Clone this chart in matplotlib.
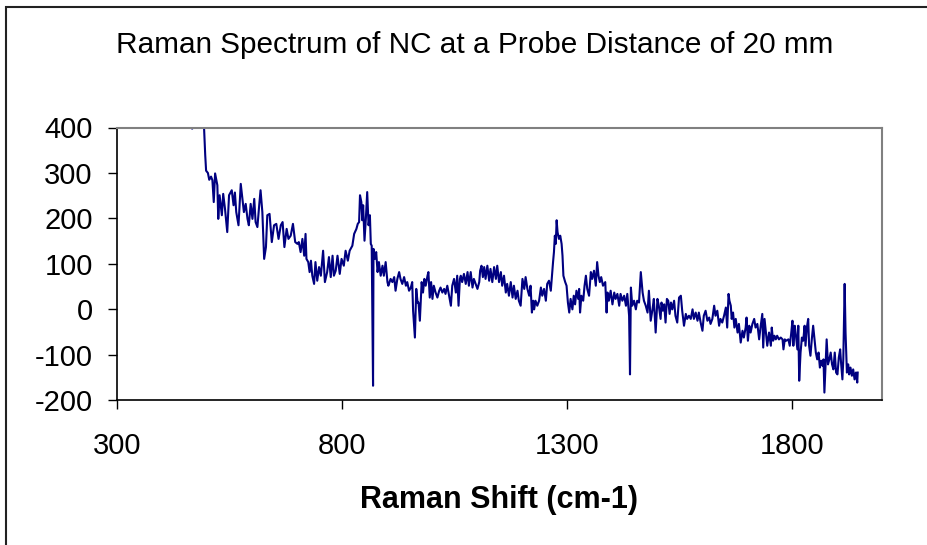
#!/usr/bin/env python3
"""Raman spectrum of NC at 20 mm probe distance (Excel-style line chart)."""

import matplotlib
matplotlib.use('Agg')
import matplotlib.pyplot as plt
from matplotlib.patches import Rectangle

plt.rcParams.update({
    'font.family': 'sans-serif',
    'font.sans-serif': ['Liberation Sans', 'DejaVu Sans'],
    'font.size': 21,
    'axes.unicode_minus': False,
})

# Raman shift (cm-1)
shift = [
    467, 472, 478, 484, 489, 493, 496, 498, 502, 505, 509, 512, 515, 518, 523, 525,
    528, 533, 536, 540, 545, 549, 555, 559, 562, 565, 570, 575, 579, 582, 586, 590,
    593, 597, 601, 605, 608, 612, 616, 619, 623, 627, 631, 634, 639, 644, 649, 654,
    659, 664, 668, 672, 677, 681, 686, 691, 696, 701,
    704, 708, 712, 716, 719, 721, 725, 728, 731, 734, 738, 741, 745, 749, 753, 758,
    762, 767, 771, 775, 779, 782, 786, 790, 795, 799, 804, 808, 813, 817, 823, 827,
    832, 835, 838, 840, 843, 845, 847, 850, 853, 856, 859, 862, 864, 866, 869, 870,
    873, 876, 879, 882, 886, 890, 893, 897, 901, 903, 908, 912, 916, 919, 923, 927,
    930, 934, 938, 942, 945, 949, 953, 956, 958, 962, 965, 968, 970, 973,
    977, 980, 983, 986, 990, 992, 995, 998, 1001, 1004, 1008, 1012, 1016, 1019, 1023,
    1027, 1030, 1034, 1038, 1042, 1045, 1049, 1053, 1056, 1059, 1062, 1064, 1067, 1071,
    1075, 1079, 1082, 1086, 1090, 1093, 1097, 1101, 1105, 1107, 1110, 1113, 1116, 1119,
    1123, 1127, 1130, 1134, 1138, 1142, 1145, 1149, 1153, 1156, 1160, 1164, 1167, 1171,
    1175, 1179, 1182, 1186, 1190, 1193, 1197, 1201, 1205, 1208, 1212, 1216, 1219, 1222,
    1225, 1227, 1230, 1234,
    1238, 1242, 1245, 1249, 1253, 1256, 1260, 1264, 1266, 1269, 1271, 1273, 1275, 1277,
    1279, 1282, 1285, 1288, 1290, 1292, 1296, 1299, 1302, 1305, 1308, 1312, 1315, 1318,
    1321, 1325, 1327, 1329, 1332, 1336, 1339, 1342, 1345, 1349, 1353, 1356, 1360, 1364,
    1367, 1370, 1373, 1376, 1380, 1385, 1388, 1390, 1393, 1397, 1401, 1405, 1408, 1412,
    1416, 1419, 1423, 1427, 1431, 1434, 1438, 1440, 1442, 1445, 1449, 1453, 1456, 1460,
    1464, 1468, 1471, 1475, 1479, 1482, 1486, 1490, 1493, 1497, 1501,
    1504, 1508, 1510, 1513, 1516, 1519, 1522, 1525, 1528, 1531, 1534, 1538, 1541, 1545,
    1549, 1553, 1556, 1560, 1564, 1567, 1571, 1575, 1579, 1582, 1586, 1590, 1593, 1597,
    1601, 1604, 1608, 1612, 1616, 1619, 1623, 1627, 1630, 1634, 1638, 1641, 1645, 1649,
    1653, 1656, 1659, 1661, 1664, 1666, 1669, 1672, 1675, 1679, 1682, 1686, 1690, 1693,
    1697, 1699, 1702, 1705, 1708, 1712, 1716, 1719, 1723, 1727, 1730, 1734, 1736, 1739,
    1742, 1745,
    1749, 1753, 1755, 1758, 1761, 1764, 1767, 1771, 1775, 1779, 1781, 1784, 1787, 1792,
    1795, 1798, 1801, 1803, 1806, 1808, 1812, 1814, 1816, 1819, 1822, 1825, 1828, 1830,
    1833, 1836, 1838, 1841, 1844, 1847, 1850, 1853, 1856, 1859, 1862, 1865, 1868, 1870,
    1872, 1875, 1877, 1880, 1883, 1886, 1889, 1892, 1895, 1898, 1901, 1904, 1907, 1909,
    1912, 1914, 1917, 1919, 1922, 1925, 1927, 1930, 1933, 1936, 1939, 1942, 1945, 1946,
]

# Intensity (counts), same order as shift
intensity = [
    398, 430, 455, 460, 440, 410, 340, 305, 300, 285, 292, 284, 236, 299, 273, 199,
    251, 207, 254, 221, 170, 251, 262, 229, 257, 214, 185, 276, 240, 214, 232, 199,
    185, 232, 199, 243, 192, 181, 229, 262, 214, 111, 137, 207, 210, 148, 185, 188,
    155, 185, 192, 137, 177, 155, 162, 188, 148, 144,
    148, 126, 155, 118, 166, 111, 104, 82, 107, 74, 56, 104, 63, 93, 74, 129,
    60, 82, 115, 71, 118, 74, 85, 118, 78, 111, 96, 129, 107, 129, 140, 166,
    177, 188, 192, 251, 236, 196, 229, 151, 199, 258, 185, 207, 144, 140, -168, 133,
    111, 126, 82, 104, 74, 96, 74, 104, 60, 52, 67, 60, 71, 41, 67, 82,
    67, 56, 71, 52, 60, 41, 48, 60, -3, -62, 45, 15, 15, -25,
    60, 37, 67, 52, 74, 82, 26, 60, 23, 52, 37, 26, 41, 48, 37,
    45, 34, 52, 30, 8, 52, 67, 37, 74, 8, 67, 74, 60, 78,
    56, 82, 52, 82, 48, 67, 56, 45, 60, 85, 96, 71, 93, 67,
    96, 63, 89, 60, 93, 67, 96, 60, 82, 52, 74, 37, 56, 30,
    60, 26, 52, 23, 41, 19, 8, 67, 45, 71, 45, 30, 52, -7,
    19, 0, 19, 8,
    19, 48, 30, 45, 19, 56, 63, 41, 67, 104, 126, 162, 144, 196,
    170, 155, 162, 144, 118, 74, 60, 52, 15, -7, 23, 0, 30, 11,
    41, 23, 45, -7, 30, 19, 52, 74, 45, 30, 82, 67, 85, 52,
    104, 74, 60, 71, 52, 60, -7, 37, 19, 41, 11, 37, 23, 34,
    8, 34, 19, 30, 8, 34, -14, -143, 48, 8, 19, 0, 19, 15,
    82, 37, 19, 8, -7, 41, -25, 0, 23, -51, 23,
    8, -21, 15, -3, 11, -29, 23, 19, -10, 15, 0, 19, -14, -29,
    26, 30, -3, -36, -10, -21, -14, -21, 0, -21, -7, -25, -7, -29,
    -47, -14, -3, -25, -18, -32, -21, 8, -14, -3, -36, -21, -29, -14,
    4, -40, 34, 19, 8, -21, -7, -40, -21, -51, -32, -73, -47, -62,
    -40, -18, -69, -36, -51, -32, -21, -40, -32, -66, -40, -10, -84, -21,
    -51, -80,
    -51, -80, -40, -69, -58, -66, -58, -66, -62, -66, -88, -66, -69, -66,
    -80, -55, -25, -80, -36, -51, -88, -36, -157, -95, -62, -69, -36, -80,
    -40, -21, -80, -102, -66, -36, -66, -95, -110, -95, -128, -113, -124, -110,
    -183, -113, -66, -121, -110, -95, -121, -132, -95, -139, -143, -106, -88, -117,
    -154, -110, 56, -51, -139, -121, -143, -128, -146, -132, -154, -139, -161, -139,
]

x_ticks = [300, 800, 1300, 1800]
y_ticks = [-200, -100, 0, 100, 200, 300, 400]

W, H = 927, 545
fig = plt.figure(figsize=(W / 100, H / 100), dpi=100)
# plot area in pixels: left 117, right 882, top 127.5, bottom 400.3
ax = fig.add_axes([117 / W, 1 - 400.3 / H, 765 / W, 272.8 / H])

ax.plot(shift, intensity, color='#000080', linewidth=1.5)

ax.set_xlim(300, 2000)
ax.set_ylim(-200, 400)
ax.set_xticks(x_ticks)
ax.set_yticks(y_ticks)
ax.tick_params(axis='both', direction='out', length=6.5, width=1, labelsize=21)
ax.tick_params(axis='y', pad=11)
ax.tick_params(axis='x', pad=16.5)

# Excel-like plot area: grey frame, black axis lines
for side in ('top', 'right'):
    ax.spines[side].set_color('#808080')
    ax.spines[side].set_linewidth(1.5)
for side in ('left', 'bottom'):
    ax.spines[side].set_color('black')
    ax.spines[side].set_linewidth(1.2)

ax.set_xlabel('Raman Shift (cm-1)', fontsize=22, fontweight='bold', labelpad=18)
fig.text(475 / W, 1 - 53.3 / H, 'Raman Spectrum of NC at a Probe Distance of 20 mm',
         ha='center', va='baseline', fontsize=21.4)

# outer chart border (clipped at right and bottom in the reference)
fig.patches.append(Rectangle((6 / W, -0.05), 1.0, 1 - 6.5 / H + 0.05,
                             transform=fig.transFigure, fill=False,
                             edgecolor='#222222', linewidth=1.5))

fig.savefig('out.png', dpi=100, facecolor='white')
